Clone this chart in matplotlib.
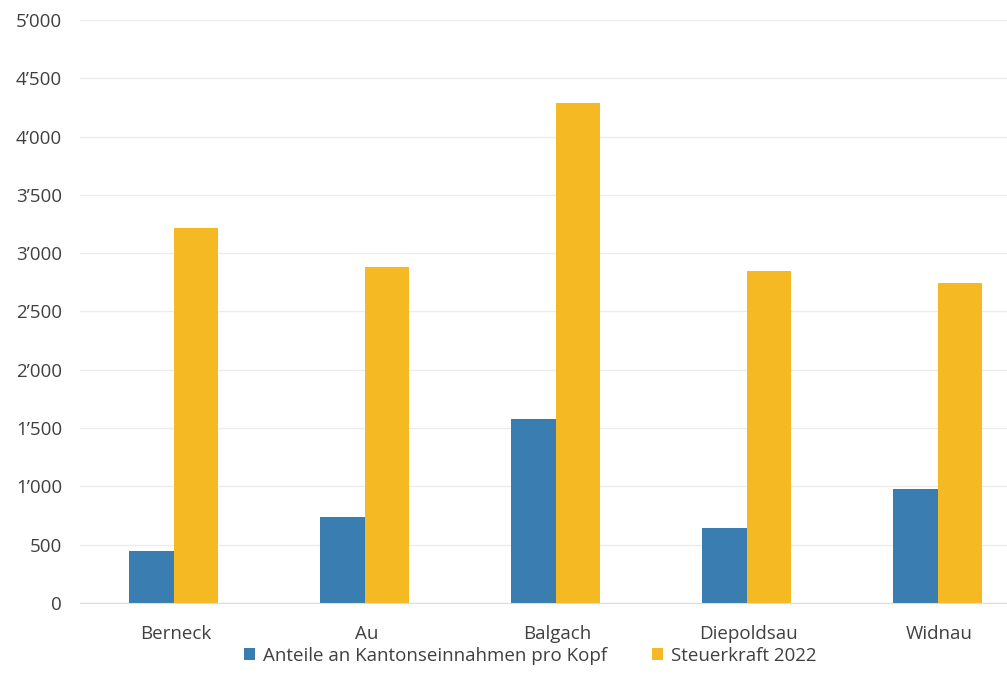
import matplotlib
matplotlib.use("Agg")
import matplotlib.pyplot as plt
from matplotlib.ticker import FuncFormatter, MultipleLocator
import numpy as np

# values
gemeinden = ["Berneck", "Au", "Balgach", "Diepoldsau", "Widnau"]
anteile_kanton = [445, 735, 1575, 640, 975]
steuerkraft_2022 = [3220, 2880, 4285, 2845, 2745]

blau = "#3a7db0"
gelb = "#f5b923"
textfarbe = "#404040"

plt.rcParams["font.family"] = ["Open Sans", "DejaVu Sans"]

fig = plt.figure(figsize=(10.07, 6.9), dpi=100)
ax = fig.add_axes([80 / 1007, 87 / 690, 927 / 1007, 583 / 690])

x = np.arange(len(gemeinden))
w = 0.235
ax.bar(x - w / 2 - 0.01, anteile_kanton, w, color=blau, label="Anteile an Kantonseinnahmen pro Kopf")
ax.bar(x + w / 2 - 0.01, steuerkraft_2022, w, color=gelb, label="Steuerkraft 2022")

ax.set_xlim(-0.5, 927 / 191 - 0.5)
ax.set_ylim(0, 5000)
ax.yaxis.set_major_locator(MultipleLocator(500))
ax.yaxis.set_major_formatter(
    FuncFormatter(lambda v, p: f"{int(v):,}".replace(",", "\u2019")))
ax.set_xticks(x)
ax.set_xticklabels(gemeinden)
ax.tick_params(axis="both", length=0, labelsize=13.5, colors=textfarbe)
ax.tick_params(axis="x", pad=16)
ax.tick_params(axis="y", pad=13)

ax.grid(axis="y", color="#ececec", linewidth=1)
ax.set_axisbelow(True)
for s in ["top", "right", "left"]:
    ax.spines[s].set_visible(False)
ax.spines["bottom"].set_color("#dcdcdc")

leg = fig.legend(loc="center", bbox_to_anchor=(530 / 1007, 1 - 656 / 690), ncol=2,
                 frameon=False, fontsize=13.5, handlelength=0.6, handleheight=0.6,
                 handletextpad=0.4, columnspacing=2.4)
for t in leg.get_texts():
    t.set_color(textfarbe)

fig.savefig("out.png", dpi=100)
